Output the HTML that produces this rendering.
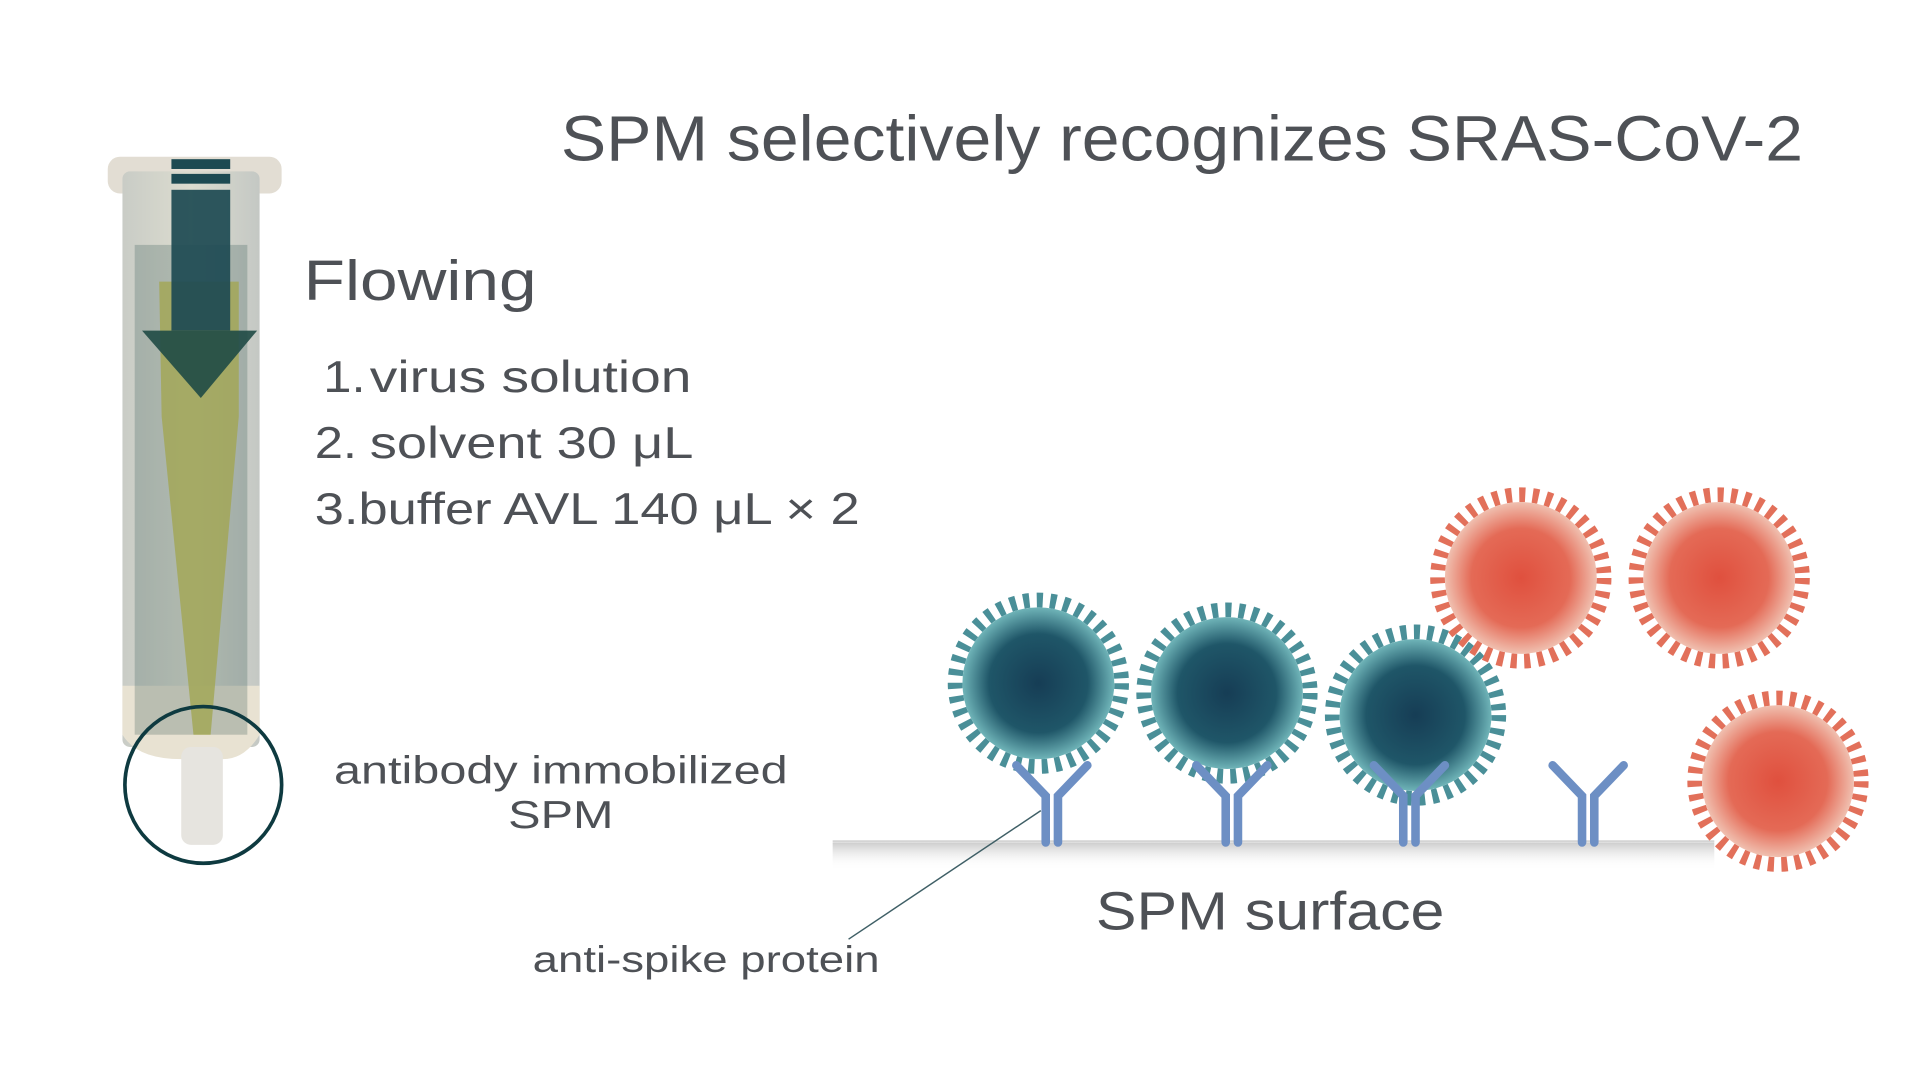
<!DOCTYPE html>
<html><head><meta charset="utf-8"><style>
html,body{margin:0;padding:0;background:#fff;width:1920px;height:1080px;overflow:hidden}
#s{position:absolute;left:0;top:0;width:1568px;height:882px;transform:scale(1.22449);transform-origin:0 0;font-family:"Liberation Sans",sans-serif;color:#4e5156}
.t{position:absolute;white-space:nowrap;line-height:1;transform-origin:0 0}
</style></head><body><div id="s">
<svg width="1568" height="882" style="position:absolute;left:0;top:0">
<defs>
<radialGradient id="tg" cx="50%" cy="50%" r="50%"><stop offset="0" stop-color="#163d55"/><stop offset="0.65" stop-color="#1f5668"/><stop offset="1" stop-color="#6fb4b8"/></radialGradient>
<radialGradient id="rg" cx="50%" cy="50%" r="50%"><stop offset="0" stop-color="#e0503e"/><stop offset="0.65" stop-color="#e46a56"/><stop offset="1" stop-color="#f0c0b0"/></radialGradient>
<linearGradient id="sh" x1="0" y1="0" x2="0" y2="1"><stop offset="0" stop-color="#ccc"/><stop offset="1" stop-color="#fff" stop-opacity="0"/></linearGradient>
<linearGradient id="tube" x1="0" x2="1"><stop offset="0" stop-color="#c9ccc6"/><stop offset="0.5" stop-color="#dcdccf"/><stop offset="1" stop-color="#c4c8c4"/></linearGradient>
</defs>
<rect x="88" y="128" width="142" height="30" rx="10" fill="#e2ddd3"/>
<rect x="100" y="140" width="112" height="470" rx="6" fill="url(#tube)"/>
<path d="M100 560 L212 560 L212 600 Q200 620 182 620 L148 620 Q112 620 100 600Z" fill="#e8e2d2"/>
<rect x="148" y="610" width="34" height="80" rx="8" fill="#e6e4df"/>
<path d="M130 230 L195 230 L195 340 L172 600 L158 600 L132 340Z" fill="#c9c35a" opacity="0.85"/>
<rect x="110" y="200" width="92" height="400" fill="#2f5550" opacity="0.25"/>
<rect x="140" y="130" width="48" height="8" fill="#1d4a52"/>
<rect x="140" y="142" width="48" height="8" fill="#1d4a52"/>
<rect x="140" y="155" width="48" height="115" fill="#1d4a52" opacity="0.92"/>
<polygon points="116,270 210,270 164,325" fill="#1f4a45" opacity="0.9"/>
<circle cx="166" cy="641" r="64" fill="none" stroke="#0e3a40" stroke-width="3"/>
<rect x="680" y="688" width="720" height="22" fill="url(#sh)"/>
<line x1="680" y1="687" x2="1400" y2="687" stroke="#d4d4d4" stroke-width="1.5"/>
<g><circle cx="848" cy="558" r="68" fill="none" stroke="#4a8f98" stroke-width="12" stroke-dasharray="5 6"/><circle cx="848" cy="558" r="62" fill="url(#tg)"/></g>
<g><circle cx="1002" cy="566" r="68" fill="none" stroke="#4a8f98" stroke-width="12" stroke-dasharray="5 6"/><circle cx="1002" cy="566" r="62" fill="url(#tg)"/></g>
<g><circle cx="1156" cy="584" r="68" fill="none" stroke="#4a8f98" stroke-width="12" stroke-dasharray="5 6"/><circle cx="1156" cy="584" r="62" fill="url(#tg)"/></g>
<g><circle cx="1242" cy="472" r="68" fill="none" stroke="#e2705a" stroke-width="12" stroke-dasharray="5 6"/><circle cx="1242" cy="472" r="62" fill="url(#rg)"/></g>
<g><circle cx="1404" cy="472" r="68" fill="none" stroke="#e2705a" stroke-width="12" stroke-dasharray="5 6"/><circle cx="1404" cy="472" r="62" fill="url(#rg)"/></g>
<g><circle cx="1452" cy="638" r="68" fill="none" stroke="#e2705a" stroke-width="12" stroke-dasharray="5 6"/><circle cx="1452" cy="638" r="62" fill="url(#rg)"/></g>
<g fill="none" stroke="#6d8fc4" stroke-width="7" stroke-linecap="round">
<path d="M854 688 V650 L830 625 M864 688 V650 L888 625"/>
<path d="M1001 688 V650 L977 625 M1011 688 V650 L1035 625"/>
<path d="M1146 688 V650 L1122 625 M1156 688 V650 L1180 625"/>
<path d="M1292 688 V650 L1268 625 M1302 688 V650 L1326 625"/>
</g>
<line x1="850" y1="662" x2="693" y2="767" stroke="#3f5f66" stroke-width="1.2"/>
</svg>
<div class="t" style="left:458px;top:88px;font-size:52px;transform:scaleX(1.067)">SPM selectively recognizes SRAS-CoV-2</div>
<div class="t" style="left:248px;top:206px;font-size:46px;transform:scaleX(1.2)">Flowing</div>
<div class="t" style="left:264px;top:290px;font-size:36px;transform:scaleX(1.15)">1.</div>
<div class="t" style="left:302px;top:290px;font-size:36px;transform:scaleX(1.25)">virus solution</div>
<div class="t" style="left:257px;top:344px;font-size:36px;transform:scaleX(1.15)">2.</div>
<div class="t" style="left:302px;top:344px;font-size:36px;transform:scaleX(1.23)">solvent 30 μL</div>
<div class="t" style="left:257px;top:398px;font-size:36px;transform:scaleX(1.19)">3.buffer AVL 140 μL × 2</div>
<div class="t" style="left:272px;top:611px;width:300px;text-align:center;font-size:32px;line-height:36px;transform:scaleX(1.24)">antibody immobilized<br>SPM</div>
<div class="t" style="left:435px;top:770px;font-size:30px;transform:scaleX(1.24)">anti-spike protein</div>
<div class="t" style="left:895px;top:723px;font-size:44px;transform:scaleX(1.13)">SPM surface</div>
</div></body></html>
